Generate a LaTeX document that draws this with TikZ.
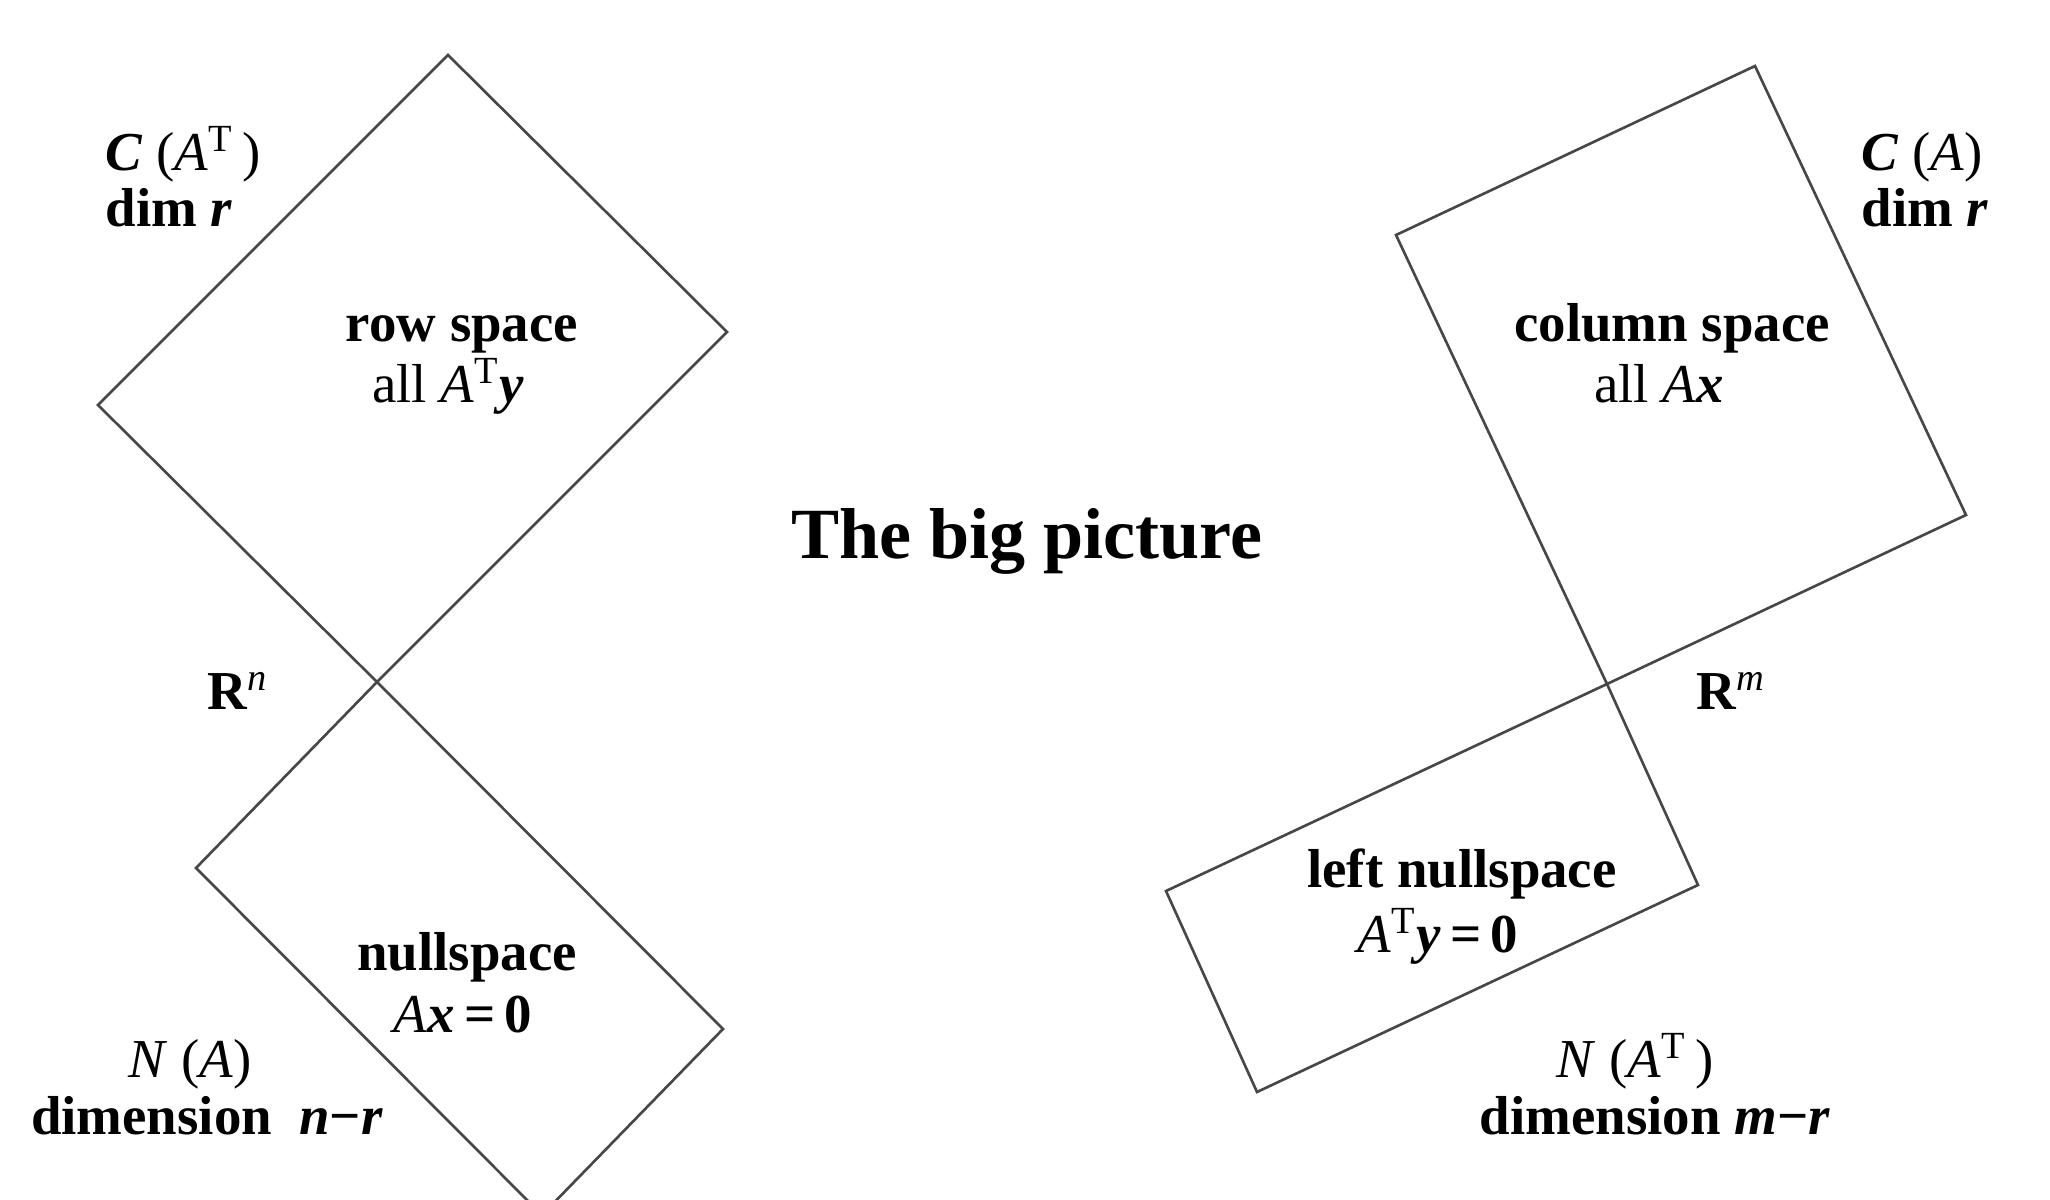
\documentclass[tikz,border=0pt]{standalone}
\usepackage{fontspec}
\setmainfont{Liberation Serif}
\newcommand{\bi}[1]{\textbf{\textit{#1}}}
\newcommand{\sT}{\textsuperscript{\textmd{T}}}
\begin{document}
\begin{tikzpicture}[x=0.01cm,y=-0.01cm,
  lbl/.style={inner sep=0pt,anchor=base,font=\fontsize{15.6}{18}\selectfont},
  lbll/.style={lbl,anchor=base west},
  ttl/.style={inner sep=0pt,anchor=base,font=\fontsize{20.5}{24}\selectfont\bfseries},
  space/.style={draw=black!72,line width=0.75pt,line join=miter}]
\useasboundingbox (0,0) rectangle (2050,1200);
\clip (0,0) rectangle (2050,1200);
% left side (R^n)
\draw[space] (448,55) -- (727,332) -- (377,682) -- (98,405) -- cycle;
\draw[space] (377,682) -- (723,1029) -- (542,1215) -- (196,868) -- cycle;
% right side (R^m)
\draw[space] (1755,66) -- (1966,515) -- (1607,684) -- (1396,235) -- cycle;
\draw[space] (1607,684) -- (1698,885) -- (1257,1092) -- (1166,891) -- cycle;
% labels left
\node[lbll] (cat) at (105,170) {\bi{C}\ (\textit{A}\sT\,)};
\node[lbll] (dimr1) at (105,226) {\textbf{dim} \bi{r}};
\node[lbl] (row) at (462,341) {\textbf{row space}};
\node[lbl] (allaty) at (448,402) {all \textit{A}\sT\bi{y}};
\node[lbl] (rn) at (238,709) {\textbf{R}\textsuperscript{\textit{n}}};
\node[lbl] (null) at (467,970) {\textbf{nullspace}};
\node[lbl] (axz) at (463,1032) {\textit{A}\bi{x}\,\textbf{=}\,\textbf{0}};
\node[lbl] (na) at (190,1077) {\textit{N}\ (\textit{A})};
\node[lbl] (dimnr) at (207,1134) {\textbf{dimension}\enspace\bi{n}\textbf{−}\bi{r}};
% title
\node[ttl] (title) at (1027,558) {The big picture};
% labels right
\node[lbll] (ca) at (1861,170) {\bi{C}\ (\textit{A})};
\node[lbll] (dimr2) at (1861,226) {\textbf{dim} \bi{r}};
\node[lbl] (col) at (1672,341) {\textbf{column space}};
\node[lbl] (allax) at (1659,402) {all \textit{A}\bi{x}};
\node[lbl] (rm) at (1731,709) {\textbf{R}\textsuperscript{\textit{m}}};
\node[lbl] (lnull) at (1462,887) {\textbf{left nullspace}};
\node[lbl] (atyz) at (1438,952) {\textit{A}\sT\bi{y}\,\textbf{=}\,\textbf{0}};
\node[lbl] (nat) at (1635,1077) {\textit{N}\ (\textit{A}\sT\,)};
\node[lbl] (dimmr) at (1655,1134) {\textbf{dimension} \bi{m}\textbf{−}\bi{r}};
\end{tikzpicture}
\end{document}
